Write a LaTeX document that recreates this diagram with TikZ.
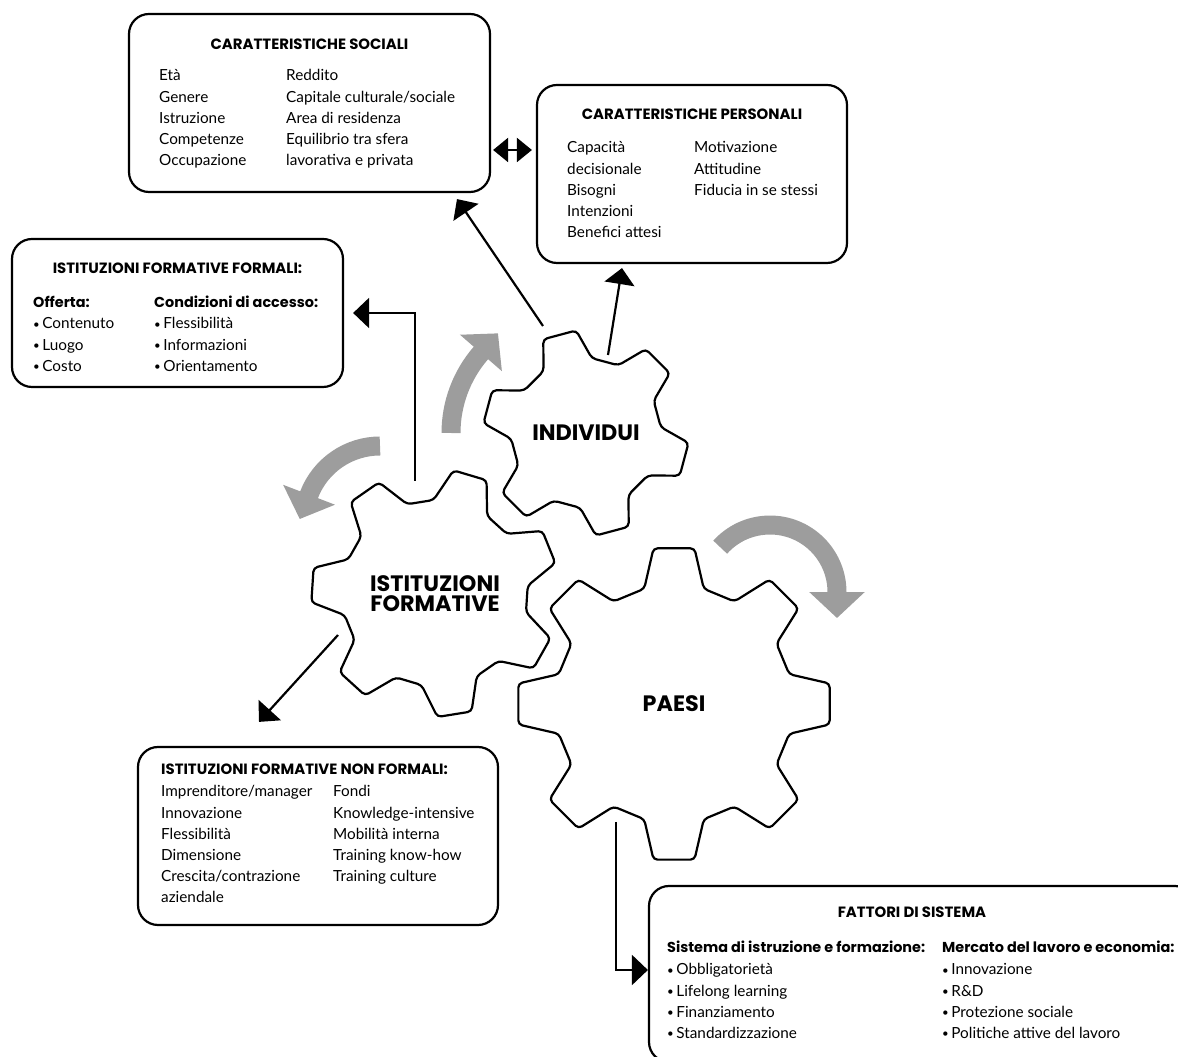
\documentclass[tikz,border=0pt]{standalone}
\usepackage{fontspec}
\setmainfont{Lato}
\newfontfamily\heavyfont{Poppins}
\usepackage{tikz}
\usetikzlibrary{positioning,arrows.meta,bending}
\definecolor{turngray}{HTML}{9D9D9D}
\tikzstyle{box}=[rectangle,rounded corners=20pt,draw=black,line width=2.2pt]
\tikzstyle{cog}=[draw=black,line width=2.2pt,rounded corners=4pt,fill=white]
\tikzstyle{title}=[font=\heavyfont\bfseries\fontsize{14.9}{17}\selectfont,inner sep=0pt]
\tikzstyle{head}=[font=\heavyfont\bfseries\fontsize{14.4}{17}\selectfont,inner sep=0pt,anchor=base west]
\tikzstyle{txt}=[font=\fontsize{15.3}{17}\selectfont,inner sep=0pt,anchor=base west]
\tikzstyle{gearlabel}=[font=\heavyfont\bfseries\fontsize{22.3}{20}\selectfont,align=center]
\tikzstyle{mypath}=[line width=2.2pt,-{Triangle[length=16pt,width=30pt]}]
\tikzstyle{dblpath}=[line width=2.2pt,{Triangle[length=15pt,width=24pt]}-{Triangle[length=15pt,width=24pt]}]
\tikzstyle{turn}=[turngray,line width=19pt,-{Triangle[length=26pt,width=54pt]}]
\def\lead{21.2}
\newcommand{\bul}{\raisebox{0.1ex}{\scalebox{0.75}{•}}\,}
% centre, teeth, outer r, root r, tip half-angle, base half-angle, offset
\newcommand{\gear}[7]{%
  \begin{scope}[shift={#1}]
    \draw[cog] (#7-180/#2:{#4*cos(180/#2-#6)})
      \foreach \k [evaluate=\k as \a using #7+(\k-1)*360/#2] in {1,...,#2}
        { -- (\a-#6:#4) -- (\a-#5:#3) -- (\a+#5:#3) -- (\a+#6:#4) } -- cycle;
  \end{scope}}

\begin{document}
\begin{tikzpicture}[x=1pt,y=1pt]
		\useasboundingbox (0,0) rectangle (1178,1057);
		\clip (0,0) rectangle (1178,1057);

		% boxes
		\node[box,minimum width=361pt,minimum height=178pt] (social) at (309.5,954) {};
		\node[box,minimum width=310pt,minimum height=178pt] (personal) at (692,883) {};
		\node[box,minimum width=331pt,minimum height=148pt] (formal) at (177.5,744) {};
		\node[box,minimum width=360pt,minimum height=178pt] (nonformal) at (318,221) {};
		\node[box,minimum width=546pt,minimum height=176pt] (system) at (922,83) {};

		% social characteristics
		\node[title,below=25.5pt of social.north] (socialt) {CARATTERISTICHE SOCIALI};
		\foreach \t [count=\i] in {Età,Genere,Istruzione,Competenze,Occupazione}
			\node[txt] (soca\i) at (159,{976-\lead*(\i-1)}) {\t};
		\foreach \t [count=\i] in {Reddito,Capitale culturale/sociale,Area di residenza,Equilibrio tra sfera,lavorativa e privata}
			\node[txt] (socb\i) at (286,{976-\lead*(\i-1)}) {\t};

		% personal characteristics
		\node[title,below=24.5pt of personal.north] (personalt) {CARATTERISTICHE PERSONALI};
		\foreach \t [count=\i] in {Capacità,decisionale,Bisogni,Intenzioni,Benefici attesi}
			\node[txt] (pera\i) at (567,{904-\lead*(\i-1)}) {\t};
		\foreach \t [count=\i] in {Motivazione,Attitudine,Fiducia in se stessi}
			\node[txt] (perb\i) at (694,{904-\lead*(\i-1)}) {\t};

		% formal institutions
		\node[title,below=24.5pt of formal.north] (formalt) {ISTITUZIONI FORMATIVE FORMALI:};
		\node[head] (offer) at (33,749) {Offerta:};
		\node[head] (access) at (154,749) {Condizioni di accesso:};
		\foreach \t [count=\i] in {Contenuto,Luogo,Costo}
			\node[txt] (fora\i) at (33,{728-\lead*(\i-1)}) {\bul\t};
		\foreach \t [count=\i] in {Flessibilità,Informazioni,Orientamento}
			\node[txt] (forb\i) at (154,{728-\lead*(\i-1)}) {\bul\t};

		% non formal institutions
		\node[title,anchor=base west] (nonformalt) at (161,282) {ISTITUZIONI FORMATIVE NON FORMALI:};
		\foreach \t [count=\i] in {Imprenditore/manager,Innovazione,Flessibilità,Dimensione,Crescita/contrazione,aziendale}
			\node[txt] (nfa\i) at (161,{260-\lead*(\i-1)}) {\t};
		\foreach \t [count=\i] in {Fondi,Knowledge-intensive,Mobilità interna,Training know-how,Training culture}
			\node[txt] (nfb\i) at (333,{260-\lead*(\i-1)}) {\t};

		% system factors
		\node[title,anchor=base] (systemt) at (912,139) {FATTORI DI SISTEMA};
		\node[head] (edu) at (667,104) {Sistema di istruzione e formazione:};
		\node[head] (market) at (942,104) {Mercato del lavoro e economia:};
		\foreach \t [count=\i] in {Obbligatorietà,Lifelong learning,Finanziamento,Standardizzazione}
			\node[txt] (sysa\i) at (667,{82-\lead*(\i-1)}) {\bul\t};
		\foreach \t [count=\i] in {Innovazione,R\&D,Protezione sociale,Politiche attive del lavoro}
			\node[txt] (sysb\i) at (942,{82-\lead*(\i-1)}) {\bul\t};

		% gears
		\gear{(586,624)}{6}{103}{75}{9.5}{19.5}{45}
		\gear{(435,464)}{7}{124}{93}{8}{17.5}{22}
		\gear{(674,353)}{8}{157}{119}{7.5}{14.5}{0}
		\node[gearlabel] (indiv) at (586,624) {INDIVIDUI};
		\node[gearlabel] (istit) at (435,463) {ISTITUZIONI\\FORMATIVE};
		\node[gearlabel] (paesi) at (674,353) {PAESI};

		% turning arrows
		\draw[turn] (451,624) arc[start angle=180,end angle=139,radius=122] -- ++(49:26);
		\draw[turn] (380,611) arc[start angle=90,end angle=159,radius=76] -- ++(249:26);
		\draw[turn] (720.2,509.8) arc[start angle=138,end angle=0,radius=67] -- ++(0,-26);

		% connections
		\coordinate (istiup) at ([shift={(-20,113)}]istit.center);
		\coordinate (istidown) at ([shift={(-97,-41)}]istit.center);
		\coordinate (indivl) at ([shift={(-43,107)}]indiv.center);
		\coordinate (indivr) at ([shift={(22,78)}]indiv.center);
		\coordinate (paesidown) at ([shift={(-58,-118)}]paesi.center);
		\draw[mypath] (istiup) |- ([xshift=9pt]formal.east);
		\draw[mypath] (indivl) -- ([shift={(147.5,-6)}]social.south);
		\draw[mypath] (indivr) -- ([shift={(-70,-4)}]personal.south);
		\draw[mypath] (istidown) -- ([shift={(-59,24)}]nonformal.north);
		\draw[mypath] (paesidown) |- ([yshift=4pt]system.west);
		\draw[dblpath] ([shift={(2,-47)}]social.east) -- ([shift={(-4,24)}]personal.west);
	\end{tikzpicture}
\end{document}
